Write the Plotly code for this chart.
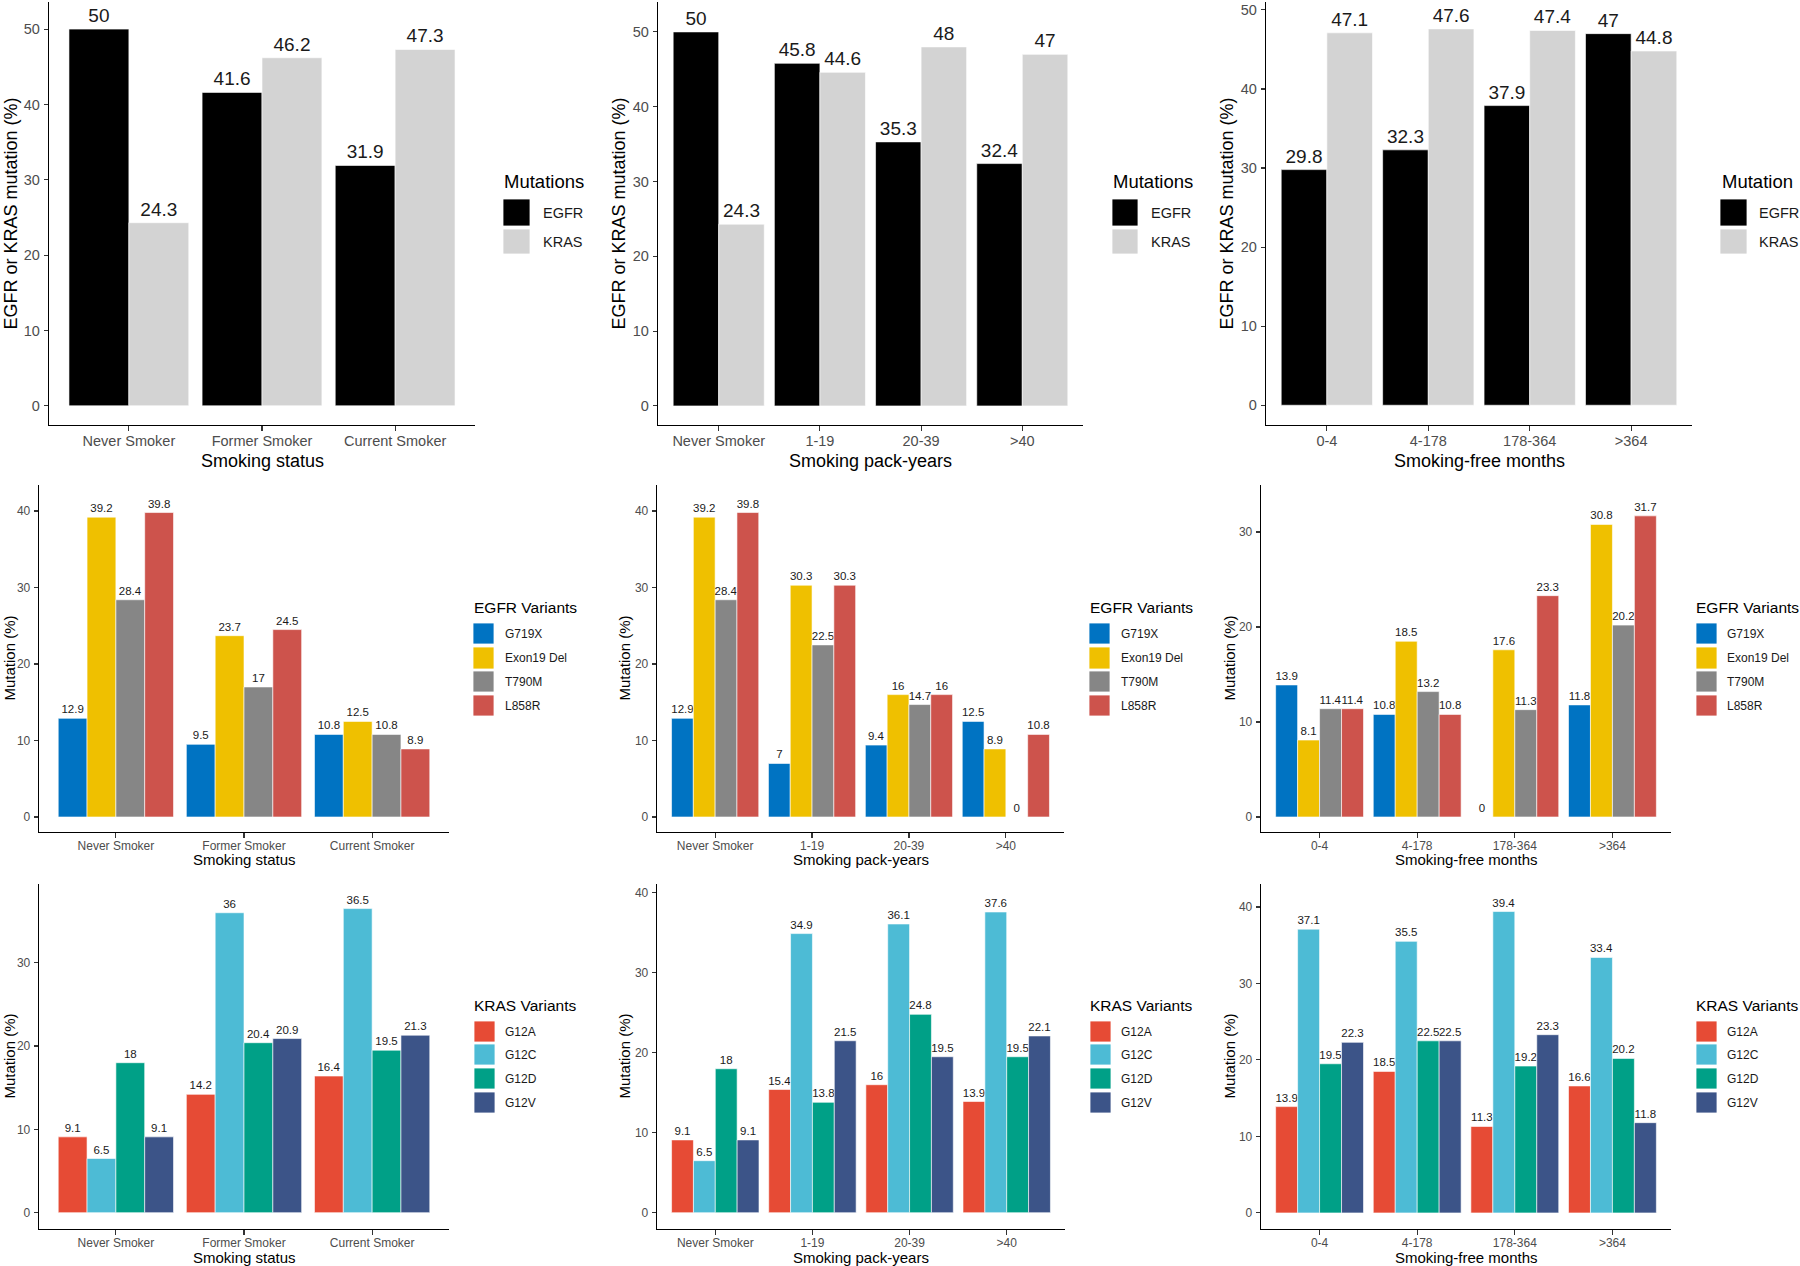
import plotly.graph_objects as go

# ---------------- data ----------------
status_cats = ["Never Smoker", "Former Smoker", "Current Smoker"]
pack_cats = ["Never Smoker", "1-19", "20-39", ">40"]
free_cats = ["0-4", "4-178", "178-364", ">364"]

mutation_names = ["EGFR", "KRAS"]
status_egfr = [50, 41.6, 31.9]
status_kras = [24.3, 46.2, 47.3]
pack_egfr = [50, 45.8, 35.3, 32.4]
pack_kras = [24.3, 44.6, 48, 47]
free_egfr = [29.8, 32.3, 37.9, 47]
free_kras = [47.1, 47.6, 47.4, 44.8]

egfr_variant_names = ["G719X", "Exon19 Del", "T790M", "L858R"]
status_g719x = [12.9, 9.5, 10.8]
status_exon19 = [39.2, 23.7, 12.5]
status_t790m = [28.4, 17, 10.8]
status_l858r = [39.8, 24.5, 8.9]
pack_g719x = [12.9, 7, 9.4, 12.5]
pack_exon19 = [39.2, 30.3, 16, 8.9]
pack_t790m = [28.4, 22.5, 14.7, 0]
pack_l858r = [39.8, 30.3, 16, 10.8]
free_g719x = [13.9, 10.8, 0, 11.8]
free_exon19 = [8.1, 18.5, 17.6, 30.8]
free_t790m = [11.4, 13.2, 11.3, 20.2]
free_l858r = [11.4, 10.8, 23.3, 31.7]

kras_variant_names = ["G12A", "G12C", "G12D", "G12V"]
status_g12a = [9.1, 14.2, 16.4]
status_g12c = [6.5, 36, 36.5]
status_g12d = [18, 20.4, 19.5]
status_g12v = [9.1, 20.9, 21.3]
pack_g12a = [9.1, 15.4, 16, 13.9]
pack_g12c = [6.5, 34.9, 36.1, 37.6]
pack_g12d = [18, 13.8, 24.8, 19.5]
pack_g12v = [9.1, 21.5, 19.5, 22.1]
free_g12a = [13.9, 18.5, 11.3, 16.6]
free_g12c = [37.1, 35.5, 39.4, 33.4]
free_g12d = [19.5, 22.5, 19.2, 20.2]
free_g12v = [22.3, 22.5, 23.3, 11.8]

x_titles = ["Smoking status", "Smoking pack-years", "Smoking-free months"]
y_title_top = "EGFR or KRAS mutation (%)"
y_title_var = "Mutation (%)"
tick_vals = [0, 10, 20, 30, 40, 50]

# ---------------- styles ----------------
mutation_colors = ["#000000", "#D3D3D3"]
egfr_colors = ["#0073C2", "#EFC000", "#868686", "#CD534C"]
kras_colors = ["#E64B35", "#4DBBD5", "#00A087", "#3C5488"]

W, H = 1800, 1266
FONT = "Liberation Sans, Arial, Helvetica, sans-serif"


def fx(px):
    return px / W


def fy(py):
    return 1 - py / H


def fmt(v):
    return f"{v:g}"


row_styles = [
    dict(label=19, tick=14.5, title=18, leg_title=18.5, leg_label=14.5,
         y=(2, 425), xtitle_y=461, leg_title_y=182,
         keys=[(199, 226), (229, 254)]),
    dict(label=11.5, tick=12, title=15, leg_title=15.5, leg_label=12,
         y=(485, 832), xtitle_y=860, leg_title_y=607,
         keys=[(623, 644), (647, 669), (671, 692), (695, 716)]),
    dict(label=11.5, tick=12, title=15, leg_title=15.5, leg_label=12,
         y=(884, 1229), xtitle_y=1257, leg_title_y=1006,
         keys=[(1021, 1042), (1044, 1065), (1068, 1089), (1092, 1113)]),
]

panels = [
    # row 1
    dict(row=0, cats=status_cats, series=[status_egfr, status_kras], names=mutation_names,
         colors=mutation_colors, xpx=(49, 475), yr=(-2.55, 53.6), xt=x_titles[0], yt=y_title_top,
         ytx=10, leg="Mutations", legx=(502, 503, 530, 541)),
    dict(row=0, cats=pack_cats, series=[pack_egfr, pack_kras], names=mutation_names,
         colors=mutation_colors, xpx=(658, 1083), yr=(-2.55, 54.0), xt=x_titles[1], yt=y_title_top,
         ytx=618, leg="Mutations", legx=(1111, 1112, 1138, 1149)),
    dict(row=0, cats=free_cats, series=[free_egfr, free_kras], names=mutation_names,
         colors=mutation_colors, xpx=(1266, 1692), yr=(-2.5, 51.0), xt=x_titles[2], yt=y_title_top,
         ytx=1226, leg="Mutation", legx=(1720, 1720, 1747, 1757)),
    # row 2
    dict(row=1, cats=status_cats, series=[status_g719x, status_exon19, status_t790m, status_l858r],
         names=egfr_variant_names, colors=egfr_colors, xpx=(39, 449), yr=(-1.96, 43.4),
         xt=x_titles[0], yt=y_title_var, ytx=9, leg="EGFR Variants", legx=(472, 473, 494, 503)),
    dict(row=1, cats=pack_cats, series=[pack_g719x, pack_exon19, pack_t790m, pack_l858r],
         names=egfr_variant_names, colors=egfr_colors, xpx=(657, 1064), yr=(-1.96, 43.4),
         xt=x_titles[1], yt=y_title_var, ytx=624, leg="EGFR Variants", legx=(1088, 1089, 1110, 1119)),
    dict(row=1, cats=free_cats, series=[free_g719x, free_exon19, free_t790m, free_l858r],
         names=egfr_variant_names, colors=egfr_colors, xpx=(1261, 1671), yr=(-1.58, 34.95),
         xt=x_titles[2], yt=y_title_var, ytx=1229, leg="EGFR Variants", legx=(1694, 1696, 1717, 1725)),
    # row 3
    dict(row=2, cats=status_cats, series=[status_g12a, status_g12c, status_g12d, status_g12v],
         names=kras_variant_names, colors=kras_colors, xpx=(39, 449), yr=(-1.96, 39.45),
         xt=x_titles[0], yt=y_title_var, ytx=9, leg="KRAS Variants", legx=(472, 474, 495, 503)),
    dict(row=2, cats=pack_cats, series=[pack_g12a, pack_g12c, pack_g12d, pack_g12v],
         names=kras_variant_names, colors=kras_colors, xpx=(657, 1065), yr=(-2.04, 41.1),
         xt=x_titles[1], yt=y_title_var, ytx=624, leg="KRAS Variants", legx=(1088, 1090, 1111, 1119)),
    dict(row=2, cats=free_cats, series=[free_g12a, free_g12c, free_g12d, free_g12v],
         names=kras_variant_names, colors=kras_colors, xpx=(1261, 1671), yr=(-2.1, 43.0),
         xt=x_titles[2], yt=y_title_var, ytx=1229, leg="KRAS Variants", legx=(1694, 1696, 1717, 1725)),
]

fig = go.Figure()
layout = dict(
    width=W, height=H, margin=dict(l=0, r=0, t=0, b=0),
    paper_bgcolor="white", plot_bgcolor="white",
    barmode="group", bargap=0.1, bargroupgap=0.0,
    showlegend=False, font=dict(family=FONT, color="#000000"),
)
shapes = []
annotations = []

for i, p in enumerate(panels, start=1):
    st = row_styles[p["row"]]
    xa = "x" if i == 1 else f"x{i}"
    ya = "y" if i == 1 else f"y{i}"
    for vals, name, col in zip(p["series"], p["names"], p["colors"]):
        fig.add_trace(go.Bar(
            x=p["cats"], y=vals, name=name, xaxis=xa, yaxis=ya,
            marker=dict(color=col, line=dict(color="white", width=0.6)),
            text=[fmt(v) for v in vals], textposition="outside", textangle=0,
            constraintext="none", cliponaxis=False,
            textfont=dict(size=st["label"], color="#1a1a1a", family=FONT),
            showlegend=False,
        ))
    y0, y1 = st["y"]
    layout["xaxis" if i == 1 else f"xaxis{i}"] = dict(
        domain=[fx(p["xpx"][0]), fx(p["xpx"][1])], anchor=ya,
        type="category", range=[-0.6, len(p["cats"]) - 0.4],
        showline=True, linecolor="#000000", linewidth=1.3,
        ticks="outside", ticklen=5, tickcolor="#333333", tickwidth=1.1,
        ticklabelstandoff=-3,
        tickfont=dict(size=st["tick"], color="#4D4D4D", family=FONT),
        showgrid=False, zeroline=False, fixedrange=True,
    )
    layout["yaxis" if i == 1 else f"yaxis{i}"] = dict(
        domain=[fy(y1), fy(y0)], anchor=xa,
        range=list(p["yr"]), tickvals=tick_vals,
        showline=True, linecolor="#000000", linewidth=1.3,
        ticks="outside", ticklen=4, tickcolor="#333333", tickwidth=1.1,
        ticklabelstandoff=1,
        tickfont=dict(size=st["tick"], color="#4D4D4D", family=FONT),
        showgrid=False, zeroline=False, fixedrange=True,
    )
    # axis titles
    annotations.append(dict(
        text=p["xt"], xref="paper", yref="paper",
        x=fx((p["xpx"][0] + p["xpx"][1]) / 2), y=fy(st["xtitle_y"]),
        xanchor="center", yanchor="middle", showarrow=False,
        font=dict(size=st["title"], color="#000000", family=FONT),
    ))
    annotations.append(dict(
        text=p["yt"], xref="paper", yref="paper", textangle=-90,
        x=fx(p["ytx"]), y=fy((y0 + y1) / 2),
        xanchor="center", yanchor="middle", showarrow=False,
        font=dict(size=st["title"], color="#000000", family=FONT),
    ))
    # legend
    tx, kx0, kx1, lx = p["legx"]
    annotations.append(dict(
        text=p["leg"], xref="paper", yref="paper",
        x=fx(tx), y=fy(st["leg_title_y"]), xanchor="left", yanchor="middle",
        showarrow=False, font=dict(size=st["leg_title"], color="#000000", family=FONT),
    ))
    for (ky0, ky1), name, col in zip(st["keys"], p["names"], p["colors"]):
        shapes.append(dict(
            type="rect", xref="paper", yref="paper",
            x0=fx(kx0), x1=fx(kx1), y0=fy(ky1), y1=fy(ky0),
            fillcolor=col, line=dict(color="white", width=0.8),
        ))
        annotations.append(dict(
            text=name, xref="paper", yref="paper",
            x=fx(lx), y=fy((ky0 + ky1) / 2), xanchor="left", yanchor="middle",
            showarrow=False, font=dict(size=st["leg_label"], color="#1a1a1a", family=FONT),
        ))

layout["shapes"] = shapes
layout["annotations"] = annotations
fig.update_layout(**layout)

fig.write_html(
    "out.html",
    config={"displayModeBar": False, "staticPlot": True},
    post_script="document.body.style.margin='0';document.body.style.overflow='hidden';",
)
